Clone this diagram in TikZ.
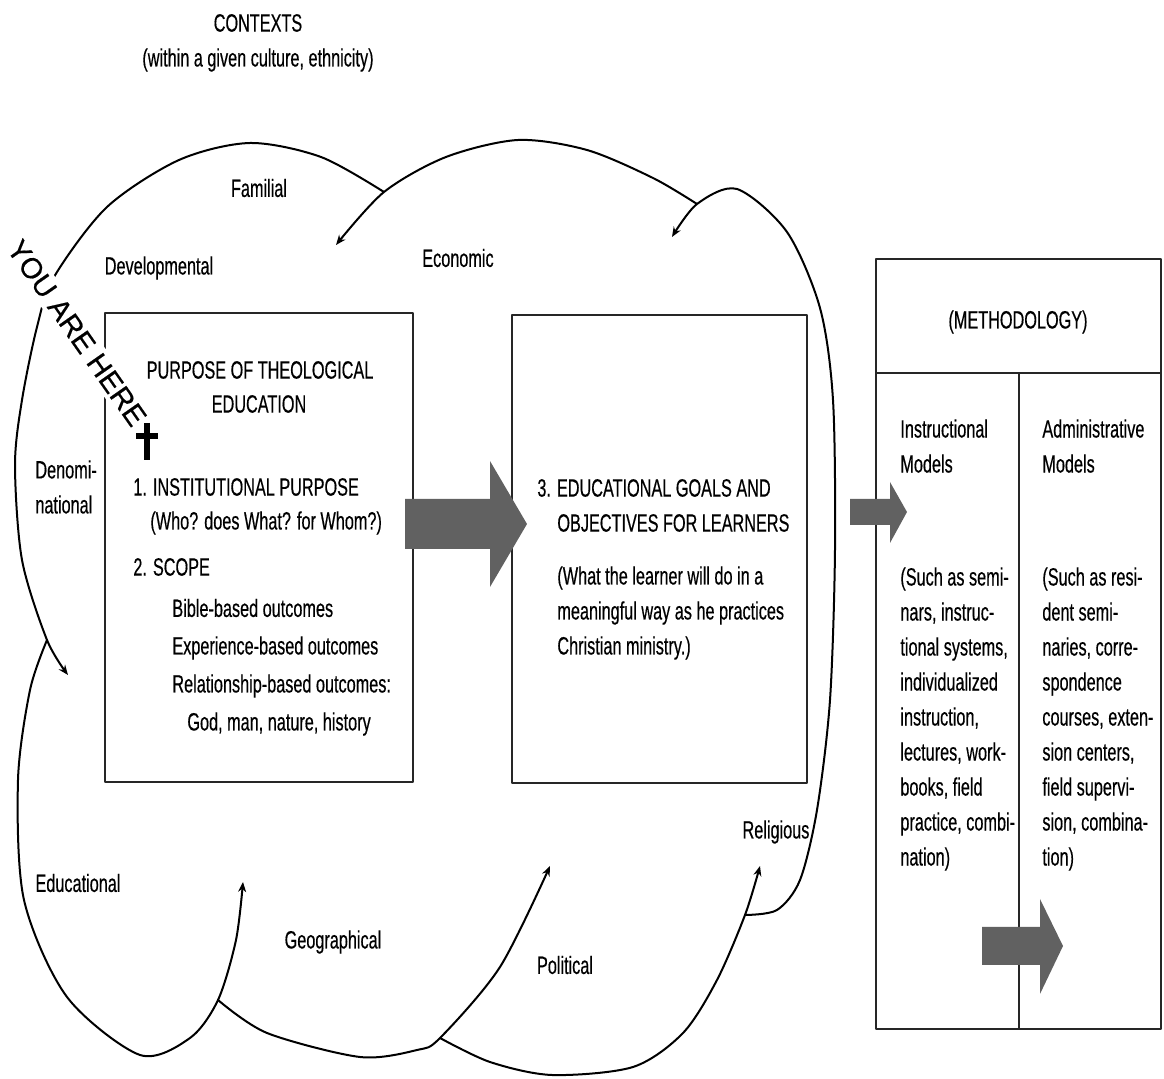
\documentclass[tikz,border=0pt]{standalone}
\usepackage{fontspec}
\setmainfont{Liberation Sans}[FakeStretch=0.65, FakeBold=0.4]
\newfontfamily\herefont{Liberation Sans}[FakeBold=0.5]
\usetikzlibrary{arrows.meta,positioning}

\begin{document}
\begin{tikzpicture}[x=0.5pt,y=-0.5pt, line join=round,
    every node/.style={font=\fontsize{12.5}{17.5}\selectfont, inner sep=0pt},
    lobe/.style={line width=1pt, -{Stealth[length=5pt,width=4pt]}},
    frame/.style={draw=black!85, line width=1.1pt},
    block/.style={fill=black!62},
    line/.style={anchor=west}]
    \useasboundingbox (0,0) rectangle (1164,1079);
    % heading
    \node (ctx) at (258,23) {CONTEXTS};
    \node (ctxsub) at (258,60) {(within a given culture, ethnicity)};
    % cloud of contexts, one lobe at a time
    \draw[lobe] plot[smooth] coordinates {(384,192) (321,157) (250,143) (179,160) (107,207) (54,277) (37,327) (22,400) (15,465) (22,560) (47,640) (68,675)};
    \draw[lobe] plot[smooth] coordinates {(47,640) (30,690) (18,780) (24,900) (67,997) (140,1055) (190,1038) (218,1000) (236,940) (243,882)};
    \draw[lobe] plot[smooth] coordinates {(218,1000) (267,1033) (360,1057) (417,1050) (440,1038) (500,967) (550,866)};
    \draw[lobe] plot[smooth] coordinates {(440,1038) (490,1062) (552,1075) (633,1067) (683,1033) (717,980) (745,915) (760,866)};
    \draw[lobe] plot[smooth] coordinates {(745,915) (777,910) (800,880) (817,810) (830,700) (835,550) (833,400) (820,308) (787,232) (737,189) (697,204) (672,237)};
    \draw[lobe] plot[smooth] coordinates {(697,204) (653,178) (587,150) (518,140) (446,157) (384,192) (336,245)};
    \node (familial) at (259,188) {Familial};
    \node (devel) at (159,268) {Developmental};
    \node (econ) at (458,258) {Economic};
    \node[align=left, anchor=west] (denom) at (35,487) {Denomi-\\national};
    \node (educ) at (78,883) {Educational};
    \node (geo) at (333,942) {Geographical};
    \node (polit) at (565,965) {Political};
    \node (relig) at (776,832) {Religious};
    % purpose box
    \node[frame, minimum width=154pt, minimum height=234.5pt] (purpose) at (259,547.5) {};
    \node (ptitle) at (260,370) {PURPOSE OF THEOLOGICAL};
    \node (ptitle2) at (259,404) {EDUCATION};
    \node[line] (inst) at (133,487) {1. INSTITUTIONAL PURPOSE};
    \node[line] (who) at (150,523) {(Who? does What? for Whom?)};
    \node[line] (scope) at (133,567) {2. SCOPE};
    \node[line] (bible) at (172,608) {Bible-based outcomes};
    \node[line] (exper) at (172,648) {Experience-based outcomes};
    \node[line] (relat) at (172,686) {Relationship-based outcomes:};
    \node[line] (god) at (187,724) {God, man, nature, history};
    % goals box
    \node[frame, minimum width=147.5pt, minimum height=234pt] (goals) at (659.5,549) {};
    \node[line] (goal1) at (537,488) {3. EDUCATIONAL GOALS AND};
    \node[line] (goal2) at (557,523) {OBJECTIVES FOR LEARNERS};
    \node[line] (goal3) at (557,578) {(What the learner will do in a};
    \node[line] (goal4) at (557,613) {meaningful way as he practices};
    \node[line] (goal5) at (557,648) {Christian ministry.)};
    % methodology box
    \node[frame, minimum width=142.5pt, minimum height=385pt] (method) at (1018.5,644) {};
    \draw[frame] (876,373) -- (1161,373);
    \draw[frame] (1019,373) -- (1019,1029);
    \node (mhead) at (1018,322) {(METHODOLOGY)};
    \node[align=left, anchor=north west] (instr) at (900,419) {Instructional\\Models};
    \node[align=left, anchor=north west] (admin) at (1042,419) {Administrative\\Models};
    \node[align=left, anchor=north west] (instrx) at (900,567) {(Such as semi-\\nars, instruc-\\tional systems,\\individualized\\instruction,\\lectures, work-\\books, field\\practice, combi-\\nation)};
    \node[align=left, anchor=north west] (adminx) at (1042,567) {(Such as resi-\\dent semi-\\naries, corre-\\spondence\\courses, exten-\\sion centers,\\field supervi-\\sion, combina-\\tion)};
    % block arrows
    \fill[block] (405,499) -- (490,499) -- (490,461) -- (527,524) -- (490,587) -- (490,549) -- (405,549) -- cycle;
    \fill[block] (850,499) -- (890,499) -- (890,482) -- (907,512) -- (890,543) -- (890,525) -- (850,525) -- cycle;
    \fill[block] (982,927) -- (1040,927) -- (1040,899) -- (1063,946) -- (1040,994) -- (1040,965) -- (982,965) -- cycle;
    % you are here
    \node[fill=white, inner sep=2pt, rotate=-55, font=\herefont\fontsize{14.5}{14.5}\selectfont] (here) at (77,333) {YOU ARE HERE};
    \draw[line width=3pt] (147,423) -- (147,460);
    \draw[line width=3pt] (136,436) -- (158,436);
\end{tikzpicture}
\end{document}
